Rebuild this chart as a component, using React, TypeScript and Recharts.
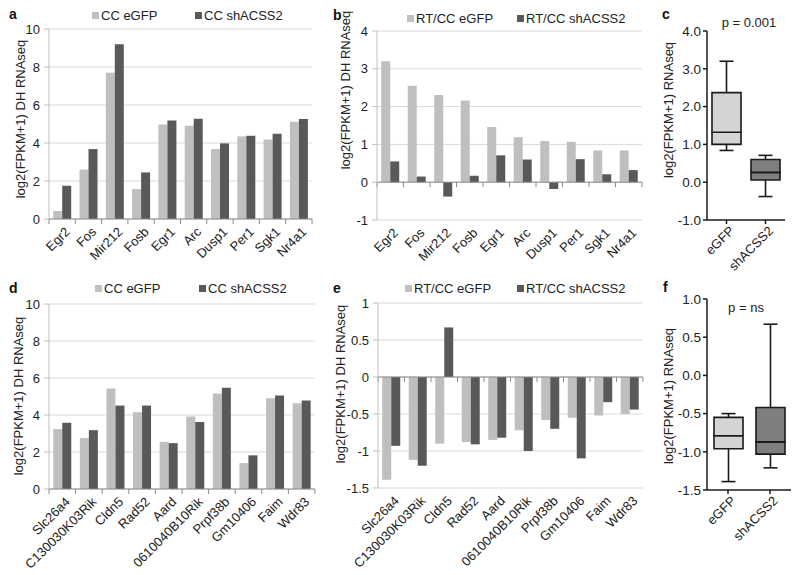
import React from 'react';
import { BarChart, Bar, XAxis, YAxis, CartesianGrid, ReferenceLine, Cell } from 'recharts';

const FONT = '"Liberation Sans", Arial, sans-serif';
const LIGHT = '#bfbfbf';
const DARK = '#595959';
const seriesColors = [LIGHT, DARK];

// top row genes (panels a, b)
const genesTop = ['Egr2', 'Fos', 'Mir212', 'Fosb', 'Egr1', 'Arc', 'Dusp1', 'Per1', 'Sgk1', 'Nr4a1'];
const ccEgfpTop = [0.42, 2.6, 7.7, 1.58, 4.98, 4.91, 3.68, 4.35, 4.18, 5.12];
const ccShTop = [1.75, 3.68, 9.2, 2.45, 5.18, 5.28, 3.98, 4.38, 4.49, 5.26];
const rtEgfpTop = [3.2, 2.55, 2.31, 2.16, 1.46, 1.19, 1.09, 1.07, 0.84, 0.84];
const rtShTop = [0.55, 0.15, -0.38, 0.17, 0.71, 0.6, -0.18, 0.61, 0.21, 0.32];

// bottom row genes (panels d, e)
const genesBottom = ['Slc26a4', 'C130030K03Rik', 'Cldn5', 'Rad52', 'Aard', '0610040B10Rik', 'Prpf38b', 'Gm10406', 'Faim', 'Wdr83'];
const ccEgfpBottom = [3.24, 2.75, 5.43, 4.15, 2.55, 3.92, 5.16, 1.4, 4.91, 4.64];
const ccShBottom = [3.58, 3.18, 4.51, 4.51, 2.48, 3.62, 5.47, 1.82, 5.05, 4.78];
const rtEgfpBottom = [-1.39, -1.12, -0.9, -0.88, -0.85, -0.72, -0.58, -0.55, -0.52, -0.5];
const rtShBottom = [-0.93, -1.2, 0.67, -0.91, -0.82, -1.0, -0.7, -1.1, -0.34, -0.44];

const ccNames = ['CC eGFP', 'CC shACSS2'];
const rtNames = ['RT/CC eGFP', 'RT/CC shACSS2'];

// box plots (panels c, f)
const boxGroups = ['eGFP', 'shACSS2'];
const boxFills = ['#d4d4d4', '#7f7f7f'];
const cMin = [0.84, -0.38];
const cQ1 = [1.0, 0.06];
const cMed = [1.32, 0.26];
const cQ3 = [2.37, 0.6];
const cMax = [3.2, 0.71];
const fMin = [-1.39, -1.21];
const fQ1 = [-0.96, -1.03];
const fMed = [-0.79, -0.87];
const fQ3 = [-0.55, -0.42];
const fMax = [-0.5, 0.67];

const ticksCC = [0, 2, 4, 6, 8, 10];
const ticksB = [-1, 0, 1, 2, 3, 4];
const ticksE = [-1.5, -1, -0.5, 0, 0.5, 1];
const ticksC = [-1, 0, 1, 2, 3, 4];
const ticksF = [-1.5, -1, -0.5, 0, 0.5, 1];

const CatTick = (props: any) => {
  const { x, y, payload } = props;
  return (
    <g transform={`translate(${x + 2},${y - 1}) rotate(-45)`}>
      <text x={0} y={0} dy="0.71em" textAnchor="end" fontSize={13} fontFamily={FONT} fill="#222">
        {payload.value}
      </text>
    </g>
  );
};

const yTitle = (x: number, y: number, text: string, size: number) => () => (
  <text
    x={x}
    y={y}
    transform={`rotate(-90 ${x} ${y})`}
    textAnchor="middle"
    dominantBaseline="central"
    fontSize={size}
    fontFamily={FONT}
    fill="#222"
  >
    {text}
  </text>
);

// zero line with Excel-style ticks between categories
const zeroAxis = (n: number) => (p: any) => {
  const step = (p.x2 - p.x1) / n;
  return (
    <g>
      <line x1={p.x1} y1={p.y1} x2={p.x2} y2={p.y1} stroke="#8c8c8c" strokeWidth={1} />
      {Array.from({ length: n + 1 }, (_, k) => (
        <line key={k} x1={p.x1 + k * step} x2={p.x1 + k * step} y1={p.y1} y2={p.y1 + 5} stroke="#8c8c8c" />
      ))}
    </g>
  );
};

function BarPanel({ left, top, width, height, margin, yWidth, genes, s1, s2, domain, ticks, title }: any) {
  const data = genes.map((g: string, i: number) => ({ gene: g, a: s1[i], b: s2[i] }));
  return (
    <div style={{ position: 'absolute', left, top }}>
      <BarChart width={width} height={height} data={data} margin={margin} barGap={0} barCategoryGap="16%">
        <CartesianGrid vertical={false} stroke="#d9d9d9" />
        <XAxis dataKey="gene" interval={0} axisLine={false} tickLine={false} height={60} tick={<CatTick />} />
        <YAxis
          width={yWidth}
          domain={domain}
          ticks={ticks}
          interval={0}
          stroke="#bfbfbf"
          tickSize={5}
          tickMargin={4}
          tick={{ fontSize: 13, fontFamily: FONT, fill: '#222' }}
          label={{ content: yTitle(title[0], title[1], 'log2(FPKM+1) DH RNAseq', 13) }}
        />
        <Bar dataKey="a" fill={LIGHT} isAnimationActive={false} />
        <Bar dataKey="b" fill={DARK} isAnimationActive={false} />
        <ReferenceLine y={0} shape={zeroAxis(genes.length)} />
      </BarChart>
    </div>
  );
}

const Whisker = (low: boolean) => (p: any) => {
  const t = Math.min(p.y, p.y + p.height);
  const b = Math.max(p.y, p.y + p.height);
  const cx = p.x + p.width / 2;
  const capY = low ? b : t;
  return (
    <g stroke="#1a1a1a" strokeWidth={1.6}>
      <line x1={cx} x2={cx} y1={t} y2={b} />
      <line x1={cx - 7} x2={cx + 7} y1={capY} y2={capY} />
    </g>
  );
};

function BoxPanel({ left, top, height, margin, plotWidth, mins, q1s, meds, q3s, maxs, domain, ticks, title }: any) {
  const data = boxGroups.map((g, i) => ({
    name: g,
    lowW: [mins[i], q1s[i]],
    lowBox: [q1s[i], meds[i]],
    highBox: [meds[i], q3s[i]],
    highW: [q3s[i], maxs[i]],
  }));
  const bw = 29;
  const width = 57 + plotWidth + margin.right;
  return (
    <div style={{ position: 'absolute', left, top }}>
      <BarChart width={width} height={height} data={data} margin={margin} barGap={-bw} barSize={bw}>
        <XAxis
          dataKey="name"
          interval={0}
          height={60}
          stroke="#1a1a1a"
          strokeWidth={1.5}
          tickSize={4}
          tick={<CatTick />}
        />
        <YAxis
          width={57}
          domain={domain}
          ticks={ticks}
          interval={0}
          stroke="#1a1a1a"
          strokeWidth={1.5}
          tickSize={4}
          tickMargin={2}
          tickFormatter={(v: number) => v.toFixed(1)}
          tick={{ fontSize: 13.5, fontFamily: FONT, fill: '#222' }}
          label={{ content: yTitle(title[0], title[1], 'log2(FPKM+1) RNAseq', 13) }}
        />
        <Bar dataKey="lowW" shape={Whisker(true)} isAnimationActive={false} />
        <Bar dataKey="lowBox" stroke="#1a1a1a" strokeWidth={1.6} isAnimationActive={false}>
          {data.map((_, i) => <Cell key={i} fill={boxFills[i]} />)}
        </Bar>
        <Bar dataKey="highBox" stroke="#1a1a1a" strokeWidth={1.6} isAnimationActive={false}>
          {data.map((_, i) => <Cell key={i} fill={boxFills[i]} />)}
        </Bar>
        <Bar dataKey="highW" shape={Whisker(false)} isAnimationActive={false} />
      </BarChart>
    </div>
  );
}

const LegendRow = ({ xs, baseline, names }: any) => (
  <g fontFamily={FONT} fontSize={13} fill="#222">
    {xs.map((x: number, i: number) => (
      <g key={i}>
        <rect x={x} y={baseline - 8} width={7} height={7} fill={seriesColors[i]} />
        <text x={x + 9} y={baseline}>{names[i]}</text>
      </g>
    ))}
  </g>
);

export default function App() {
  return (
    <div style={{ position: 'absolute', left: 0, top: 0, width: 800, height: 575, background: '#fff', fontFamily: FONT }}>
      <BarPanel
        left={0} top={0} width={320} height={285} yWidth={49}
        margin={{ top: 29, right: 8, left: 0, bottom: 6 }}
        genes={genesTop} s1={ccEgfpTop} s2={ccShTop}
        domain={[0, 10]} ticks={ticksCC} title={[20, 119]}
      />
      <BarPanel
        left={330} top={0} width={320} height={285} yWidth={47}
        margin={{ top: 31, right: 8, left: 0, bottom: 5 }}
        genes={genesTop} s1={rtEgfpTop} s2={rtShTop}
        domain={[-1, 4]} ticks={ticksB} title={[15, 90]}
      />
      <BoxPanel
        left={650} top={0} height={285} plotWidth={78}
        margin={{ top: 31, right: 15, left: 0, bottom: 5 }}
        mins={cMin} q1s={cQ1} meds={cMed} q3s={cQ3} maxs={cMax}
        domain={[-1, 4]} ticks={ticksC} title={[18, 110]}
      />
      <BarPanel
        left={0} top={280} width={320} height={295} yWidth={49}
        margin={{ top: 24, right: 5, left: 0, bottom: 26 }}
        genes={genesBottom} s1={ccEgfpBottom} s2={ccShBottom}
        domain={[0, 10]} ticks={ticksCC} title={[18, 116]}
      />
      <BarPanel
        left={330} top={280} width={320} height={295} yWidth={48}
        margin={{ top: 23, right: 7, left: 0, bottom: 27 }}
        genes={genesBottom} s1={rtEgfpBottom} s2={rtShBottom}
        domain={[-1.5, 1]} ticks={ticksE} title={[10, 104]}
      />
      <BoxPanel
        left={650} top={280} height={295} plotWidth={84}
        margin={{ top: 19, right: 9, left: 0, bottom: 25 }}
        mins={fMin} q1s={fQ1} meds={fMed} q3s={fQ3} maxs={fMax}
        domain={[-1.5, 1]} ticks={ticksF} title={[18, 116]}
      />
      <svg width={800} height={575} style={{ position: 'absolute', left: 0, top: 0, pointerEvents: 'none' }}>
        <g fontFamily={FONT} fontSize={14} fontWeight="bold" fill="#111">
          <text x={9} y={19}>a</text>
          <text x={333} y={20}>b</text>
          <text x={662} y={19}>c</text>
          <text x={9} y={293}>d</text>
          <text x={333} y={293}>e</text>
          <text x={663} y={292}>f</text>
        </g>
        <LegendRow xs={[92, 195]} baseline={20} names={ccNames} />
        <LegendRow xs={[407, 517]} baseline={23} names={rtNames} />
        <LegendRow xs={[95, 199]} baseline={293} names={ccNames} />
        <LegendRow xs={[405, 517]} baseline={293} names={rtNames} />
        <g fontFamily={FONT} fontSize={13} fill="#222" textAnchor="middle">
          <text x={749} y={27}>p = 0.001</text>
          <text x={746} y={312}>p = ns</text>
        </g>
      </svg>
    </div>
  );
}
